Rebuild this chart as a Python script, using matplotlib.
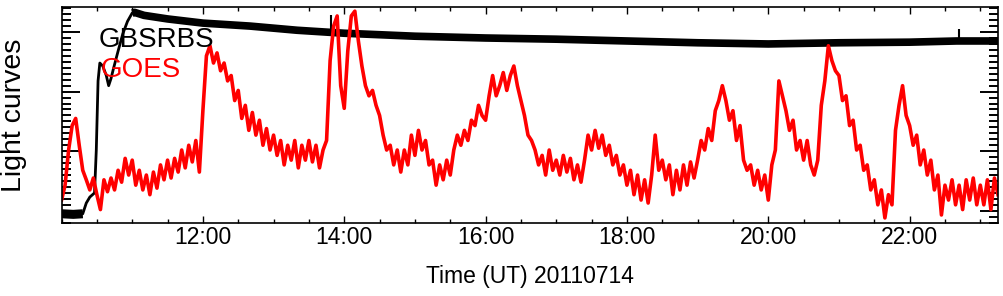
import numpy as np
import matplotlib
matplotlib.use("Agg")
import matplotlib.pyplot as plt
from matplotlib.ticker import MultipleLocator, FixedLocator, FuncFormatter

plt.rcParams['font.family'] = ['Liberation Sans', 'DejaVu Sans']

# time axis (hours UT)
t_start = 10.0
t_end = 23.25
goes_step_min = 3          # GOES values read every 3 minutes

# GOES light curve (arbitrary units), one list per hour
goes_10 = [1.8, 4.3, 10.2, 14.3, 15.5, 11.0, 6.8, 5.2, 3.5, 5.5, 2.7, 0.2, 5.2, 3.2, 5.5, 3.5, 6.8, 4.8, 8.8, 6.0]
goes_11 = [8.5, 4.3, 6.8, 3.5, 6.0, 2.7, 6.5, 3.8, 7.7, 5.2, 8.5, 5.5, 8.8, 6.5, 10.2, 7.2, 11.0, 8.2, 11.8, 6.5]
goes_12 = [16.8, 26.0, 27.7, 24.8, 26.5, 23.5, 24.8, 21.8, 22.7, 18.5, 20.2, 15.5, 17.7, 13.5, 16.5, 12.7, 15.2, 11.0, 13.8, 10.2]
goes_13 = [12.7, 9.3, 11.8, 7.7, 11.0, 8.5, 11.8, 7.2, 11.0, 8.5, 11.8, 8.2, 11.0, 7.2, 10.2, 11.8, 25.2, 31.0, 32.7, 21.0]
goes_14 = [17.2, 26.8, 32.7, 33.5, 28.5, 24.3, 21.0, 19.3, 20.2, 17.7, 16.0, 12.7, 10.2, 11.0, 7.7, 10.2, 6.5, 10.2, 7.7, 12.7]
goes_15 = [9.3, 13.5, 10.2, 11.8, 7.7, 8.5, 4.3, 7.7, 5.2, 8.5, 6.0, 10.2, 12.7, 11.0, 13.5, 11.8, 15.2, 14.3, 17.7, 16.0]
goes_16 = [15.2, 19.3, 22.7, 19.3, 21.0, 23.2, 20.2, 22.7, 24.3, 21.0, 18.5, 16.0, 12.7, 11.8, 10.2, 7.7, 9.3, 6.0, 10.2, 6.8]
goes_17 = [8.5, 6.0, 9.3, 6.5, 8.8, 5.2, 7.7, 4.8, 8.5, 12.7, 10.2, 13.5, 10.5, 12.7, 9.3, 11.0, 7.7, 9.3, 6.0, 7.7]
goes_18 = [4.3, 6.8, 2.7, 6.0, 1.8, 5.2, 1.3, 6.0, 12.7, 6.8, 8.5, 5.2, 7.7, 2.7, 6.8, 3.5, 7.7, 4.3, 8.2, 5.5]
goes_19 = [8.5, 11.8, 10.2, 13.8, 11.8, 16.8, 18.5, 21.0, 18.5, 15.2, 16.8, 11.8, 14.3, 8.5, 6.8, 7.7, 4.3, 6.8, 3.5, 6.0]
goes_20 = [1.8, 7.7, 10.2, 21.8, 19.3, 16.8, 13.5, 15.2, 10.2, 11.8, 8.5, 11.8, 7.7, 6.0, 8.5, 17.7, 21.8, 27.7, 25.2, 23.5]
goes_21 = [22.7, 18.5, 19.3, 14.3, 15.2, 10.2, 11.0, 6.8, 7.7, 3.5, 5.2, 1.0, 3.5, -1.2, 2.7, 1.0, 13.5, 17.7, 21.0, 16.0]
goes_22 = [14.3, 11.0, 12.7, 7.7, 10.2, 6.0, 8.5, 3.5, 6.0, -0.7, 4.3, 1.8, 5.2, 1.0, 4.3, 0.2, 5.2, 1.8, 5.5, 1.0]
goes_23 = [4.3, 1.0, 5.2, 0.2, 5.5, 2.7]

# GBSRBS light curve: minutes after 10:00 and value
gbs_min = [0, 10, 18, 21, 24, 28, 29.5, 31, 32.5, 35, 38, 40, 42, 44, 48, 52, 56, 60, 62, 70,
           90, 120, 160, 200, 240, 300, 360, 420, 480, 540, 600, 660, 720, 760, 795]
gbs_val = [-0.5, -0.6, -0.5, 1.3, 2.3, 3.0, 10.2, 21.8, 24.8, 24.3, 22.7, 21.0, 22.2, 23.8, 26.8, 29.7, 31.8, 33.2, 33.3, 32.8,
           32.2, 31.5, 31.0, 30.3, 29.8, 29.3, 29.0, 28.8, 28.5, 28.2, 28.0, 28.2, 28.3, 28.5, 28.5]

# single-sample spikes in the radio curve
spike_min = [229, 762]
spike_val = [32.8, 30.5]

x_major = [12, 14, 16, 18, 20, 22]


goes = np.array(goes_10 + goes_11 + goes_12 + goes_13 + goes_14 + goes_15 + goes_16 +
                goes_17 + goes_18 + goes_19 + goes_20 + goes_21 + goes_22 + goes_23)
goes_t = t_start + np.arange(len(goes)) * goes_step_min / 60.0

gbs_min = np.array(gbs_min)
gbs_val = np.array(gbs_val)
gbs_t = t_start + gbs_min / 60.0
spike_t = t_start + np.array(spike_min) / 60.0

fig = plt.figure(figsize=(10.04, 2.96), dpi=100)
ax = fig.add_axes([0.0613, 0.2466, 0.9327, 0.7297])

# radio curve: thin during the rise, thick (noisy band) elsewhere
ax.plot(gbs_t, gbs_val, color='black', lw=2.0)
ax.plot(gbs_t, np.where(gbs_min <= 20, gbs_val, np.nan), color='black', lw=6.5, solid_capstyle='butt')
ax.plot(gbs_t, np.where(gbs_min >= 60, gbs_val, np.nan), color='black', lw=5.5, solid_capstyle='butt')
ax.vlines(spike_t, np.interp(spike_t, gbs_t, gbs_val), spike_val, color='black', lw=1.5)

# x-ray curve on top
ax.plot(goes_t, goes, color='#ff0000', lw=2.6)

ax.set_xlim(t_start, t_end)
ax.set_ylim(-2.05, 34.2)

ax.xaxis.set_major_locator(FixedLocator(x_major))
ax.xaxis.set_minor_locator(MultipleLocator(0.5))
ax.xaxis.set_major_formatter(FuncFormatter(lambda h, pos: "%02d:00" % int(round(h))))
ax.yaxis.set_major_locator(MultipleLocator(10))
ax.yaxis.set_minor_locator(MultipleLocator(1))

ax.tick_params(which='both', direction='in', top=True, right=True, labelleft=False)
ax.tick_params(axis='x', which='major', length=5, width=1, labelsize=16.5, pad=2)
ax.tick_params(axis='x', which='minor', length=3, width=1)
ax.tick_params(axis='y', which='major', length=13, width=1.4)
ax.tick_params(axis='y', which='minor', length=6.5, width=1.4)
for s in ax.spines.values():
    s.set_linewidth(1.2)

fig.text(0.5275, 1 - 277 / 296, "Time (UT) 20110714", fontsize=16.5, ha='center', va='center')
fig.text(14 / 1004, 1 - 115 / 296, "Light curves", fontsize=20.5, rotation=90, ha='center', va='center')

# labels drawn inside the plot
fig.text(99 / 1004, 1 - 47 / 296, "GBSRBS", fontsize=20, color='black', va='baseline')
fig.text(101 / 1004, 1 - 77 / 296, "GOES", fontsize=20, color='#ff0000', va='baseline')

fig.savefig("out.png", dpi=100)
